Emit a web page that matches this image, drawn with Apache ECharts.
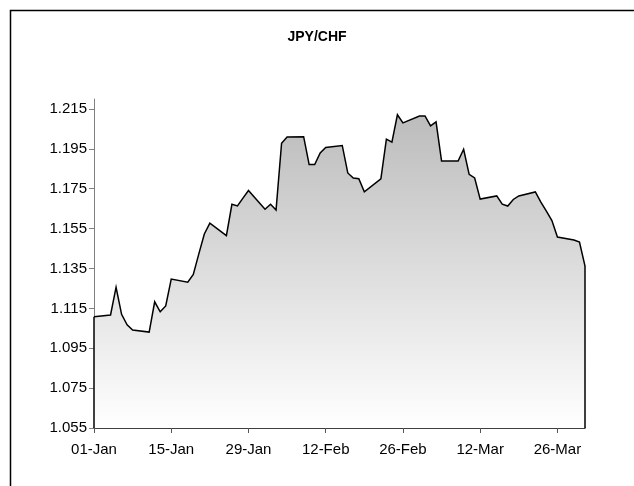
<!DOCTYPE html>
<html><head><meta charset="utf-8">
<script src="https://cdn.jsdelivr.net/npm/echarts@6/dist/echarts.min.js"></script>
<style>html,body{margin:0;padding:0;background:#fff}#c{width:634px;height:486px}</style>
</head><body><div id="c"></div>
<script>
const chartTitle = 'JPY/CHF';
const dates = [
 '2010-01-01','2010-01-04','2010-01-05','2010-01-06','2010-01-07','2010-01-08',
 '2010-01-11','2010-01-12','2010-01-13','2010-01-14','2010-01-15',
 '2010-01-18','2010-01-19','2010-01-20','2010-01-21','2010-01-22',
 '2010-01-25','2010-01-26','2010-01-27','2010-01-28','2010-01-29',
 '2010-02-01','2010-02-02','2010-02-03','2010-02-04','2010-02-05',
 '2010-02-08','2010-02-09','2010-02-10','2010-02-11','2010-02-12',
 '2010-02-15','2010-02-16','2010-02-17','2010-02-18','2010-02-19',
 '2010-02-22','2010-02-23','2010-02-24','2010-02-25','2010-02-26',
 '2010-03-01','2010-03-02','2010-03-03','2010-03-04','2010-03-05',
 '2010-03-08','2010-03-09','2010-03-10','2010-03-11','2010-03-12',
 '2010-03-15','2010-03-16','2010-03-17','2010-03-18','2010-03-19',
 '2010-03-22','2010-03-23','2010-03-24','2010-03-25','2010-03-26',
 '2010-03-29','2010-03-30','2010-03-31'
];
const values = [
 1.1108,1.1117,1.1256,1.1120,1.1067,1.1041,
 1.1031,1.1183,1.1133,1.1162,1.1297,
 1.1281,1.1320,1.1423,1.1523,1.1577,
 1.1515,1.1672,1.1664,1.1703,1.1741,
 1.1647,1.1672,1.1643,1.1978,1.2009,
 1.2011,1.1871,1.1871,1.1929,1.1957,
 1.1967,1.1829,1.1804,1.1800,1.1735,
 1.1800,1.1999,1.1984,1.2121,1.2080,
 1.2115,1.2115,1.2065,1.2085,1.1889,
 1.1889,1.1948,1.1822,1.1804,1.1698,
 1.1714,1.1673,1.1663,1.1696,1.1714,
 1.1734,1.1683,1.1638,1.1590,1.1508,
 1.1493,1.1483,1.1362
];
const yTicks = [1.055,1.075,1.095,1.115,1.135,1.155,1.175,1.195,1.215];
const yAxisMin = 1.055, yAxisMax = 1.22;
const xTickDates = ['2010-01-01','2010-01-15','2010-01-29','2010-02-12','2010-02-26','2010-03-12','2010-03-26'];
const monthNames = ['Jan','Feb','Mar','Apr','May','Jun','Jul','Aug','Sep','Oct','Nov','Dec'];

function ts(s){const p=s.split('-');return Date.UTC(+p[0],+p[1]-1,+p[2]);}
function fmtDate(v){const d=new Date(v);const dd=d.getUTCDate();return (dd<10?'0':'')+dd+'-'+monthNames[d.getUTCMonth()];}

const seriesData = dates.map((d,i)=>[ts(d), values[i]]);
const x0 = ts(dates[0]), xN = ts(dates[dates.length-1]);
const FONT = 'Liberation Sans, Arial, sans-serif';

const chart = echarts.init(document.getElementById('c'), null, {renderer:'canvas'});
chart.setOption({
  animation:false,
  backgroundColor:'#fff',
  title:{text:chartTitle,left:'center',top:25,textStyle:{fontFamily:FONT,fontSize:14,fontWeight:'bold',color:'#000'}},
  graphic:[{type:'rect',shape:{x:10.5,y:10.5,width:700,height:700},style:{fill:'none',stroke:'#000',lineWidth:1.5},silent:true,z:-1}],
  grid:{left:94,right:49,top:99,bottom:58,containLabel:false},
  xAxis:{type:'value',min:x0,max:xN,
    axisLine:{show:true,lineStyle:{color:'#000',width:1.5}},
    axisTick:{show:true,length:5,lineStyle:{color:'#555'},customValues:xTickDates.map(ts)},
    axisLabel:{customValues:xTickDates.map(ts),formatter:fmtDate,margin:14,fontFamily:FONT,fontSize:15,color:'#000'},
    splitLine:{show:false}},
  yAxis:{type:'value',min:yAxisMin,max:yAxisMax,
    axisLine:{show:true,lineStyle:{color:'#808080',width:1}},
    axisTick:{show:true,length:5,lineStyle:{color:'#808080'},customValues:yTicks},
    axisLabel:{customValues:yTicks,formatter:v=>v.toFixed(3),margin:7,fontFamily:FONT,fontSize:15,color:'#000'},
    splitLine:{show:false}},
  series:[{type:'line',data:seriesData,showSymbol:false,symbol:'none',
    lineStyle:{color:'#000',width:1.5,join:'miter'},
    areaStyle:{color:new echarts.graphic.LinearGradient(0,0,0,1,[{offset:0,color:'#bcbcbc'},{offset:1,color:'#ffffff'}]),opacity:1},
    markLine:{silent:true,symbol:['none','none'],label:{show:false},lineStyle:{color:'#000',width:1.5,type:'solid'},
      data:[[{coord:[x0,yAxisMin]},{coord:[x0,values[0]]}],[{coord:[xN,yAxisMin]},{coord:[xN,values[values.length-1]]}]]}
  }]
});
</script></body></html>
